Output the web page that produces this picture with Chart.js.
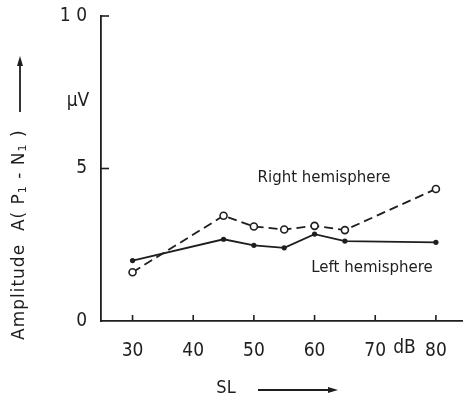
<!DOCTYPE html>
<html><head><meta charset="utf-8">
<script src="https://cdn.jsdelivr.net/npm/chart.js@4/dist/chart.umd.min.js"></script>
<style>html,body{margin:0;padding:0;background:#fff}#wrap{width:463px;height:401px;position:relative}</style>
</head><body><div id="wrap"><canvas id="c" width="463" height="401"></canvas></div>
<script>
const slLevels = [30, 45, 50, 55, 60, 65, 80];
const rightHemisphere = [1.6, 3.45, 3.1, 3.0, 3.12, 2.98, 4.33];
const leftHemisphere = [1.98, 2.68, 2.48, 2.4, 2.85, 2.62, 2.58];
const xTickValues = [30, 40, 50, 60, 70, 80];
const xTickLabels = ['30', '40', '50', '60', '70', '80'];
const yTickValues = [0, 5, 10];
const yTickLabels = ['0', '5', '1 0'];

const INK = '#1e1e1e';
const TICKFONT = '"DejaVu Sans Condensed", "DejaVu Sans", sans-serif';
const TITLEFONT = '"DejaVu Sans", sans-serif';

const decor = {
  id: 'decor',
  afterDraw(chart) {
    const ctx = chart.ctx, x = chart.scales.x, y = chart.scales.y;
    const y0 = y.getPixelForValue(0), xL = x.left;
    ctx.save();
    ctx.strokeStyle = INK; ctx.fillStyle = INK; ctx.lineWidth = 1.6;
    // inward ticks
    xTickValues.forEach(v => { const px = x.getPixelForValue(v); ctx.beginPath(); ctx.moveTo(px, y0); ctx.lineTo(px, y0 - 6); ctx.stroke(); });
    yTickValues.slice(1).forEach(v => { const py = y.getPixelForValue(v); ctx.beginPath(); ctx.moveTo(xL, py); ctx.lineTo(xL + 8, py); ctx.stroke(); });
    // unit labels
    ctx.font = '19px ' + TICKFONT; ctx.textBaseline = 'middle';
    ctx.textAlign = 'left';
    ctx.fillText('dB', x.getPixelForValue(70) + 18, 348);
    ctx.textAlign = 'center';
    ctx.fillText('\u03bcV', 78, y.getPixelForValue(7.2));
    // SL label + arrow
    ctx.font = '18px ' + TICKFONT;
    ctx.fillText('SL', 226, 388);
    ctx.lineWidth = 1.8;
    ctx.beginPath(); ctx.moveTo(258, 390); ctx.lineTo(330, 390); ctx.stroke();
    ctx.beginPath(); ctx.moveTo(338, 390); ctx.lineTo(328, 387); ctx.lineTo(328, 393); ctx.closePath(); ctx.fill();
    // Y title rotated
    ctx.save();
    ctx.translate(20, 0); ctx.rotate(-Math.PI / 2);
    ctx.textAlign = 'left'; ctx.textBaseline = 'middle';
    ctx.letterSpacing = '1px';
    let pos = -340;
    const put = (t, f, dy) => { ctx.font = f; ctx.fillText(t, pos, dy || 0); pos += ctx.measureText(t).width; };
    put('Amplitude  A( P', '17px ' + TITLEFONT);
    put('1', '11px ' + TITLEFONT, 3);
    put(' - N', '17px ' + TITLEFONT);
    put('1', '11px ' + TITLEFONT, 3);
    put(' )', '17px ' + TITLEFONT);
    ctx.letterSpacing = '0px';
    ctx.lineWidth = 1.8;
    ctx.beginPath(); ctx.moveTo(-112, 0); ctx.lineTo(-64, 0); ctx.stroke();
    ctx.beginPath(); ctx.moveTo(-56, 0); ctx.lineTo(-66, -3); ctx.lineTo(-66, 3); ctx.closePath(); ctx.fill();
    ctx.restore();
    // series annotations
    ctx.font = '15px "DejaVu Sans", sans-serif'; ctx.textAlign = 'center'; ctx.textBaseline = 'middle';
    ctx.fillText('Right hemisphere', 324, 178);
    ctx.fillText('Left hemisphere', 372, 268);
    ctx.restore();
  }
};

new Chart(document.getElementById('c'), {
  type: 'line',
  data: {
    datasets: [
      { label: 'Right hemisphere', data: slLevels.map((s, i) => ({ x: s, y: rightHemisphere[i] })),
        borderColor: INK, borderWidth: 1.8, borderDash: [9, 5], pointStyle: 'circle', pointRadius: 3.5,
        pointBackgroundColor: '#fff', pointBorderColor: INK, pointBorderWidth: 1.6, tension: 0 },
      { label: 'Left hemisphere', data: slLevels.map((s, i) => ({ x: s, y: leftHemisphere[i] })),
        borderColor: INK, borderWidth: 1.8, pointRadius: 2.6, pointBackgroundColor: INK,
        pointBorderColor: INK, pointBorderWidth: 0, tension: 0 }
    ]
  },
  options: {
    responsive: false, animation: false, devicePixelRatio: 1,
    layout: { autoPadding: false, padding: { top: 16, right: 1, left: 0, bottom: 0 } },
    plugins: { legend: { display: false }, tooltip: { enabled: false } },
    scales: {
      x: { type: 'linear', min: 24.8, max: 84.3,
        afterBuildTicks: s => { s.ticks = xTickValues.map(v => ({ value: v })); },
        afterFit: s => { s.height = 80; s.paddingLeft = 0; s.paddingRight = 0; },
        grid: { display: false, drawTicks: false },
        border: { display: true, color: INK, width: 1.8 },
        ticks: { color: INK, padding: 19, font: { family: TICKFONT, size: 19 }, maxRotation: 0, autoSkip: false,
          callback: v => xTickLabels[xTickValues.indexOf(v)] }
      },
      y: { type: 'linear', min: 0, max: 10,
        afterBuildTicks: s => { s.ticks = yTickValues.map(v => ({ value: v })); },
        afterFit: s => { s.width = 101; s.paddingTop = 0; s.paddingBottom = 0; },
        grid: { display: false, drawTicks: false },
        border: { display: true, color: INK, width: 1.8 },
        ticks: { color: INK, padding: 14, font: { family: TICKFONT, size: 19 },
          callback: v => yTickLabels[yTickValues.indexOf(v)] }
      }
    }
  },
  plugins: [decor]
});
</script></body></html>
